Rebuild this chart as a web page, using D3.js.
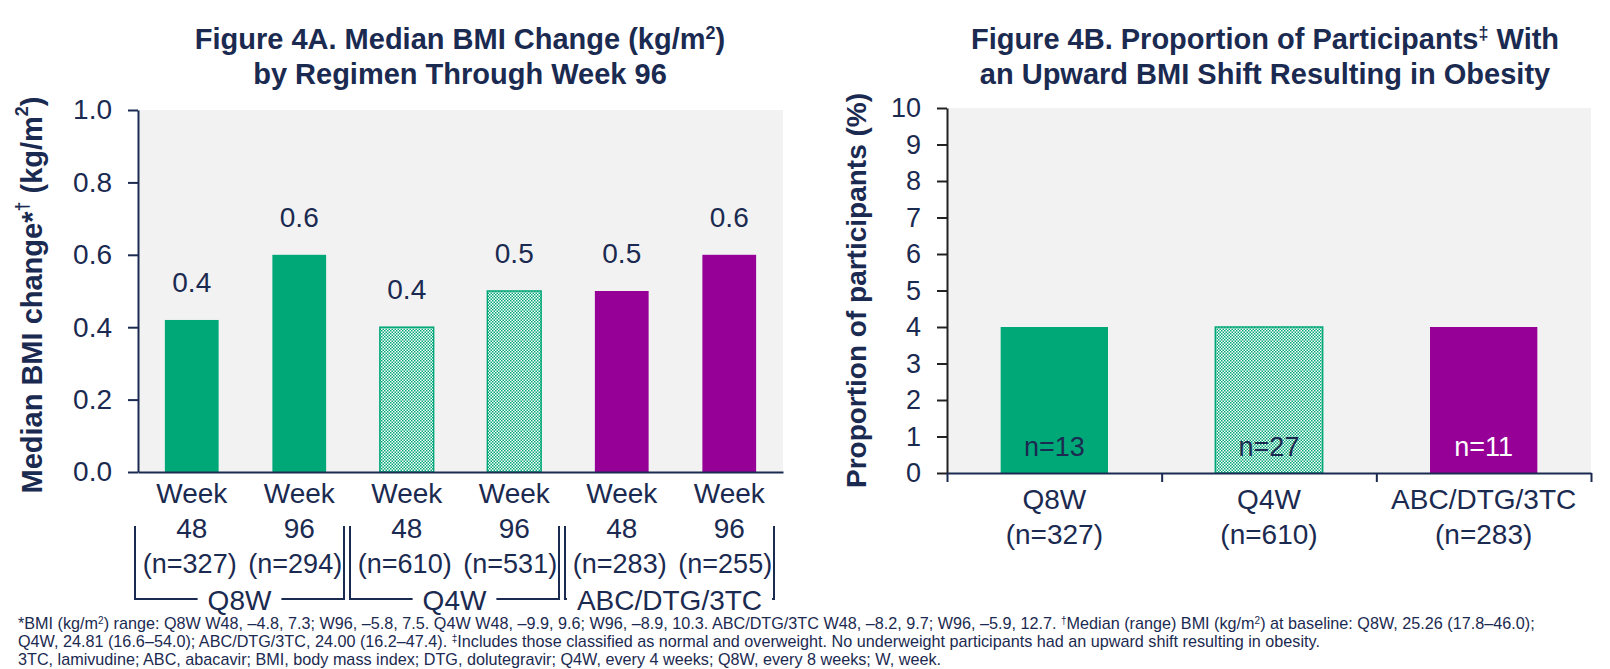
<!DOCTYPE html>
<html>
<head>
<meta charset="utf-8">
<script src="https://cdn.jsdelivr.net/npm/d3@7"></script>
<style>
  html, body { margin: 0; padding: 0; background: #fff; }
  svg { display: block; font-family: "Liberation Sans", Arial, sans-serif; }
</style>
</head>
<body>
<svg id="chart" width="1610" height="669"></svg>
<script>
// ---- Figure 4A: median BMI change by regimen and visit ----
const regimens = ["Q8W", "Q4W", "ABC/DTG/3TC"];
const weekLabels = ["48", "96", "48", "96", "48", "96"];
const bmiChange = [0.42, 0.60, 0.40, 0.50, 0.50, 0.60];
const weekN = [327, 294, 610, 531, 283, 255];
const bmiTicks = [0, 0.2, 0.4, 0.6, 0.8, 1.0];

// ---- Figure 4B: upward BMI shift resulting in obesity ----
const obesityPct = [4, 4, 4];
const obesityN = [13, 27, 11];
const regimenN = [327, 610, 283];
const pctTicks = [0, 1, 2, 3, 4, 5, 6, 7, 8, 9, 10];

const footnotes = [
  [["*BMI (kg/m"], ["2", 1], [") range: Q8W W48, \u20134.8, 7.3; W96, \u20135.8, 7.5. Q4W W48, \u20139.9, 9.6; W96, \u20138.9, 10.3. ABC/DTG/3TC W48, \u20138.2, 9.7; W96, \u20135.9, 12.7. "], ["\u2020", 1], ["Median (range) BMI (kg/m"], ["2", 1], [") at baseline: Q8W, 25.26 (17.8\u201346.0);"]],
  [["Q4W, 24.81 (16.6\u201354.0); ABC/DTG/3TC, 24.00 (16.2\u201347.4). "], ["\u2021", 1], ["Includes those classified as normal and overweight. No underweight participants had an upward shift resulting in obesity."]],
  [["3TC, lamivudine; ABC, abacavir; BMI, body mass index; DTG, dolutegravir; Q4W, every 4 weeks; Q8W, every 8 weeks; W, week."]]
];

const NAVY = "#1b2a50";
const GREEN = "#00a878";
const PURPLE = "#960096";
const PANEL = "#f2f2f2";

const svg = d3.select("#chart");

// checkered fill for the Q4W regimen
const defs = svg.append("defs");
const pat = defs.append("pattern").attr("id", "q4wFill")
  .attr("patternUnits", "userSpaceOnUse").attr("width", 3).attr("height", 3);
pat.append("rect").attr("width", 3).attr("height", 3).attr("fill", "#ffffff");
pat.append("rect").attr("width", 1.5).attr("height", 1.5).attr("fill", GREEN);
pat.append("rect").attr("x", 1.5).attr("y", 1.5).attr("width", 1.5).attr("height", 1.5).attr("fill", GREEN);

const regimenFill = [GREEN, "url(#q4wFill)", PURPLE];

// text with superscript runs
function rich(sel, parts) {
  parts.forEach(p => {
    const t = sel.append("tspan").text(p[0]);
    if (p[1]) t.attr("font-size", "0.62em").attr("baseline-shift", "super");
  });
  return sel;
}

function styleAxis(g, color, size) {
  g.select(".domain").attr("stroke", color).attr("stroke-width", 2);
  g.selectAll(".tick line").attr("stroke", color).attr("stroke-width", 2);
  g.selectAll(".tick text").attr("fill", NAVY).attr("font-size", size)
    .attr("font-family", "'Liberation Sans', Arial, sans-serif");
}

// ================= Figure 4A =================
const xA = d3.scaleBand().domain(d3.range(bmiChange.length))
  .range([138, 783]).paddingInner(0.5).paddingOuter(0.25);
const yA = d3.scaleLinear().domain([0, 1]).range([472, 110]);
const [ax0, ax1] = xA.range();

svg.append("rect").attr("x", ax0).attr("y", yA(1)).attr("width", ax1 - ax0)
  .attr("height", yA(0) - yA(1)).attr("fill", PANEL);

svg.append("g").selectAll("rect").data(bmiChange).join("rect")
  .attr("x", (d, i) => xA(i))
  .attr("y", d => yA(d))
  .attr("width", xA.bandwidth())
  .attr("height", d => yA(0) - yA(d))
  .attr("fill", (d, i) => regimenFill[Math.floor(i / 2)])
  .attr("stroke", (d, i) => Math.floor(i / 2) === 1 ? GREEN : "none")
  .attr("stroke-width", 1.5);

svg.append("g").selectAll("text").data(bmiChange).join("text")
  .attr("x", (d, i) => xA(i) + xA.bandwidth() / 2)
  .attr("y", d => yA(d) - 28)
  .attr("text-anchor", "middle").attr("font-size", 28).attr("fill", NAVY)
  .text(d => d3.format(".1f")(d));

const yAxisA = svg.append("g").attr("transform", `translate(${ax0},0)`)
  .call(d3.axisLeft(yA).tickValues(bmiTicks).tickFormat(d3.format(".1f"))
    .tickSize(10).tickSizeOuter(0).tickPadding(16));
styleAxis(yAxisA, NAVY, 28);

const xAxisA = svg.append("g").attr("transform", `translate(0,${yA(0)})`)
  .call(d3.axisBottom(xA).tickSize(0).tickSizeOuter(0).tickFormat(""));
styleAxis(xAxisA, NAVY, 28);

// category labels under each bar
const catA = svg.append("g").attr("fill", NAVY).attr("font-size", 28).attr("text-anchor", "middle");
bmiChange.forEach((d, i) => {
  const cx = xA(i) + xA.bandwidth() / 2;
  catA.append("text").attr("x", cx).attr("y", 503).text("Week");
  catA.append("text").attr("x", cx).attr("y", 538).text(weekLabels[i]);
  catA.append("text").attr("x", cx - (i % 2 ? 4 : 2)).attr("y", 573).attr("font-size", 27)
    .text(`(n=${weekN[i]})`);
});

// regimen brackets
const step = xA.step();
regimens.forEach((r, g) => {
  const start = xA(2 * g) - step * 0.25;
  const end = start + 2 * step;
  const left = start - 3, right = end - 9;
  const mid = (left + right) / 2;
  const lbl = catA.append("text").attr("x", mid).attr("y", 610).text(r);
  const w = lbl.node().getComputedTextLength();
  const lineY = 599, topY = 526;
  svg.append("path")
    .attr("d", `M${left},${topY}V${lineY}H${mid - w / 2 - 10}M${mid + w / 2 + 10},${lineY}H${right}V${topY}`)
    .attr("fill", "none").attr("stroke", NAVY).attr("stroke-width", 2);
});

// titles
const titleA = svg.append("g").attr("font-weight", "bold").attr("font-size", 29)
  .attr("fill", NAVY).attr("text-anchor", "middle");
rich(titleA.append("text").attr("x", 460).attr("y", 49),
  [["Figure 4A. Median BMI Change (kg/m"], ["2", 1], [")"]]);
titleA.append("text").attr("x", 460).attr("y", 84).text("by Regimen Through Week 96");

rich(svg.append("text")
  .attr("transform", `translate(32,${(yA(0) + yA(1)) / 2 + 4}) rotate(-90)`)
  .attr("text-anchor", "middle").attr("dominant-baseline", "central")
  .attr("font-weight", "bold").attr("font-size", 29).attr("fill", NAVY),
  [["Median BMI change*"], ["\u2020", 1], [" (kg/m"], ["2", 1], [")"]]);

// ================= Figure 4B =================
const xB = d3.scaleBand().domain(d3.range(obesityPct.length))
  .range([947, 1591]).paddingInner(0.5).paddingOuter(0.25);
const yB = d3.scaleLinear().domain([0, 10]).range([473, 108]);
const [bx0, bx1] = xB.range();

svg.append("rect").attr("x", bx0).attr("y", yB(10)).attr("width", bx1 - bx0)
  .attr("height", yB(0) - yB(10)).attr("fill", PANEL);

svg.append("g").selectAll("rect").data(obesityPct).join("rect")
  .attr("x", (d, i) => xB(i))
  .attr("y", d => yB(d))
  .attr("width", xB.bandwidth())
  .attr("height", d => yB(0) - yB(d))
  .attr("fill", (d, i) => regimenFill[i])
  .attr("stroke", (d, i) => i === 1 ? GREEN : "none")
  .attr("stroke-width", 1.5);

svg.append("g").selectAll("text").data(obesityN).join("text")
  .attr("x", (d, i) => xB(i) + xB.bandwidth() / 2)
  .attr("y", yB(0) - 17)
  .attr("text-anchor", "middle").attr("font-size", 27)
  .attr("fill", (d, i) => i === 2 ? "#ffffff" : NAVY)
  .text(d => `n=${d}`);

const yAxisB = svg.append("g").attr("transform", `translate(${bx0},0)`)
  .call(d3.axisLeft(yB).tickValues(pctTicks).tickFormat(d3.format("d"))
    .tickSize(10).tickSizeOuter(0).tickPadding(16));
styleAxis(yAxisB, "#222222", 27);

// x axis with ticks at category boundaries
const boundaries = d3.range(obesityPct.length + 1).map(k => bx0 + k * (bx1 - bx0) / obesityPct.length);
const xAxisB = svg.append("g").attr("transform", `translate(0,${yB(0)})`)
  .call(d3.axisBottom(d3.scaleLinear().domain([bx0, bx1]).range([bx0, bx1]))
    .tickValues(boundaries).tickSize(9).tickSizeOuter(0).tickFormat(""));
styleAxis(xAxisB, NAVY, 27);

const catB = svg.append("g").attr("fill", NAVY).attr("font-size", 28).attr("text-anchor", "middle");
regimens.forEach((r, i) => {
  const cx = xB(i) + xB.bandwidth() / 2;
  catB.append("text").attr("x", cx).attr("y", 509).text(r);
  catB.append("text").attr("x", cx).attr("y", 544).text(`(n=${regimenN[i]})`);
});

const titleB = svg.append("g").attr("font-weight", "bold").attr("font-size", 29)
  .attr("fill", NAVY).attr("text-anchor", "middle");
rich(titleB.append("text").attr("x", 1265).attr("y", 49),
  [["Figure 4B. Proportion of Participants"], ["\u2021", 1], [" With"]]);
titleB.append("text").attr("x", 1265).attr("y", 84).text("an Upward BMI Shift Resulting in Obesity");

svg.append("text")
  .attr("transform", `translate(856,${(yB(0) + yB(10)) / 2}) rotate(-90)`)
  .attr("text-anchor", "middle").attr("dominant-baseline", "central")
  .attr("font-weight", "bold").attr("font-size", 28).attr("fill", NAVY)
  .text("Proportion of participants (%)");

// ================= footnotes =================
const fn = svg.append("g").attr("font-family", "'Liberation Sans Narrow', 'Liberation Sans', sans-serif")
  .attr("font-size", 16.2).attr("fill", NAVY);
footnotes.forEach((parts, k) => {
  rich(fn.append("text").attr("x", 18).attr("y", 629 + k * 18), parts);
});
</script>
</body>
</html>
